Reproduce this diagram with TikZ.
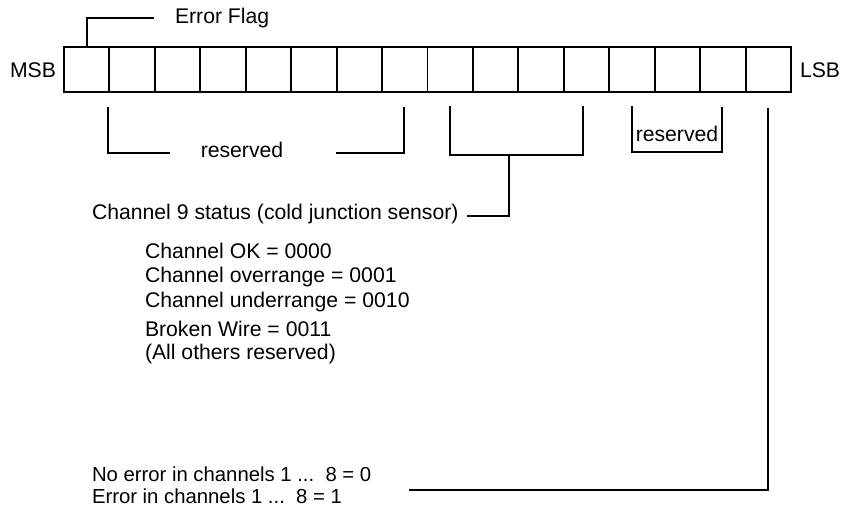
\documentclass[tikz,border=0pt]{standalone}
\usepackage{fontspec}
\setmainfont{Liberation Sans}
\begin{document}
\begin{tikzpicture}[x=1pt,y=-1pt,line width=1.9pt,
  every node/.style={font=\fontsize{21.2}{22}\selectfont, inner sep=0pt, outer sep=0pt},
  cell/.style={draw, line width=1.9pt, minimum width=45.44pt, minimum height=45pt, anchor=north west},
  lbl/.style={anchor=west},
  conn/.style={line width=1.9pt}]
\useasboundingbox (0,0) rectangle (847,508);
\foreach \i in {0,...,15} \node[cell] (c\i) at ({64+45.4375*\i},47) {};
\node[anchor=east] (msb) at (56,70) {MSB};
\node[anchor=west] (lsb) at (800,70) {LSB};
% error flag
\node[lbl] (ef) at (175,18) {Error Flag};
\coordinate (efend) at (154,18);
\draw[conn] (c0.north) |- (efend);
% reserved (upper bits)
\node (res1) at (242,150) {reserved};
\coordinate (r1a) at (108,107);
\coordinate (r1b) at (170,153);
\coordinate (r1c) at (336,153);
\coordinate (r1d) at (404,107);
\draw[conn] (r1a) |- (r1b);
\draw[conn] (r1c) -| (r1d);
% channel 9 bracket
\coordinate (b9a) at (450,106);
\coordinate (b9b) at (583,106);
\coordinate (b9m) at (509,155);
\draw[conn] (b9a) |- (583,155) -- (b9b);
\node[lbl] (ch9) at (92,214) {Channel 9 status (cold junction sensor)};
\coordinate (ch9end) at (467,216);
\draw[conn] (b9m) |- (ch9end);
% small reserved
\coordinate (r2a) at (632,106);
\coordinate (r2b) at (722,107);
\draw[conn] (r2a) |- (722,152) -- (r2b);
\node (res2) at (677,134) {reserved};
% status list
\node[lbl] (l1) at (145,251) {Channel OK = 0000};
\node[lbl] (l2) at (145,277) {Channel overrange = 0001};
\node[lbl] (l3) at (145,302) {Channel underrange = 0010};
\node[lbl] (l4) at (145,329) {Broken Wire = 0011};
\node[lbl] (l5) at (145,354) {(All others reserved)};
% error bits
\node[lbl, align=left, font=\fontsize{20.3}{22}\selectfont] (err) at (92,485) {No error in channels 1 ...\ \ 8 = 0\\Error in channels 1 ...\ \ 8 = 1};
\coordinate (lsbst) at (768,108);
\coordinate (errend) at (409,490);
\draw[conn] (lsbst) |- (errend);
\end{tikzpicture}
\end{document}
